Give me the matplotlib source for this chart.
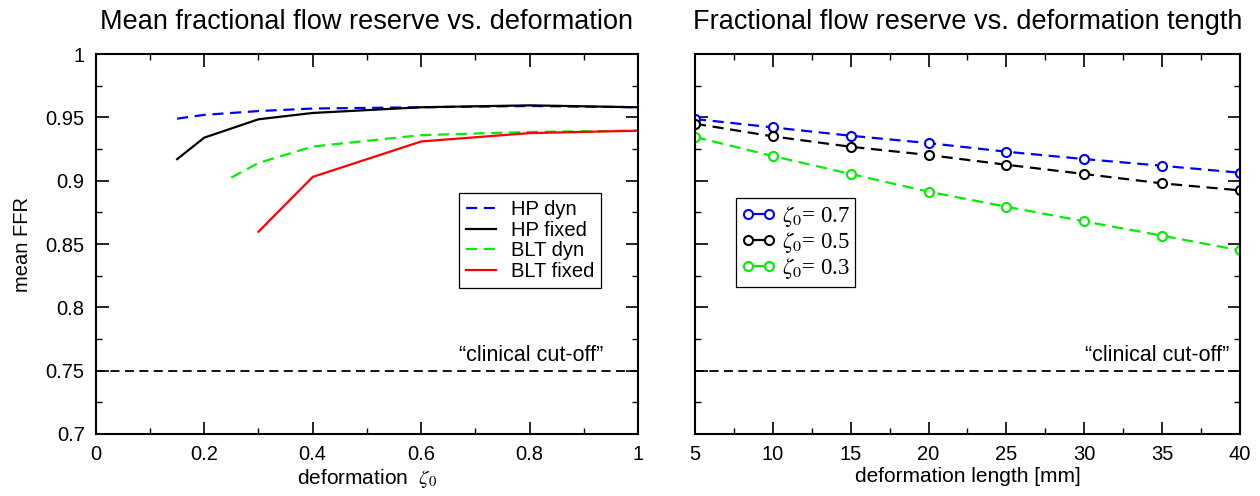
import matplotlib
matplotlib.use('Agg')
import matplotlib.pyplot as plt
from matplotlib.lines import Line2D
from matplotlib.ticker import MultipleLocator, FormatStrFormatter

plt.rcParams['font.family'] = ['Liberation Sans', 'DejaVu Sans']
plt.rcParams['mathtext.fontset'] = 'stix'

# left panel: mean FFR vs. deformation zeta_0
zeta_hp = [0.15, 0.2, 0.3, 0.4, 0.6, 0.8, 1.0]
hp_dyn = [0.949, 0.952, 0.955, 0.957, 0.958, 0.959, 0.958]
hp_fixed = [0.917, 0.934, 0.9485, 0.9535, 0.958, 0.9595, 0.958]
zeta_blt_dyn = [0.25, 0.3, 0.4, 0.6, 0.8, 1.0]
blt_dyn = [0.9025, 0.914, 0.927, 0.936, 0.9385, 0.9395]
zeta_blt_fixed = [0.3, 0.4, 0.6, 0.8, 1.0]
blt_fixed = [0.8597, 0.903, 0.931, 0.9376, 0.9395]

# right panel: FFR vs. deformation length
length_mm = [5, 10, 15, 20, 25, 30, 35, 40]
ffr_z07 = [0.9487, 0.9421, 0.9355, 0.9297, 0.9229, 0.9171, 0.9118, 0.9063]
ffr_z05 = [0.945, 0.935, 0.9268, 0.9203, 0.9126, 0.9053, 0.8979, 0.8924]
ffr_z03 = [0.9345, 0.9195, 0.9053, 0.8913, 0.8795, 0.8679, 0.8566, 0.845]
right_labels = [r'$\zeta_0$= 0.7', r'$\zeta_0$= 0.5', r'$\zeta_0$= 0.3']
right_colors = ['#0000ff', 'black', '#00ee00']

cutoff = 0.75

fig = plt.figure(figsize=(12.6, 4.96), dpi=100)
ax1 = fig.add_axes([0.076, 0.125, 0.4305, 0.766])
ax2 = fig.add_axes([0.5516, 0.125, 0.4325, 0.766])

lw = 1.6
ax1.plot(zeta_hp, hp_dyn, color='#0000ff', lw=lw, dashes=(5, 3), label='HP dyn')
ax1.plot(zeta_hp, hp_fixed, color='black', lw=lw, label='HP fixed')
ax1.plot(zeta_blt_dyn, blt_dyn, color='#00ee00', lw=lw, dashes=(5, 3), label='BLT dyn')
ax1.plot(zeta_blt_fixed, blt_fixed, color='#ff0000', lw=lw, label='BLT fixed')
ax1.axhline(cutoff, color='black', lw=1.3, dashes=(5, 3))
ax1.text(0.935, 0.762, '\u201cclinical cut-off\u201d', ha='right', va='center', fontsize=15.5)

for vals, c in zip([ffr_z07, ffr_z05, ffr_z03], right_colors):
    ax2.plot(length_mm, vals, color=c, lw=lw, dashes=(5, 3), marker='o',
             markersize=6.5, markerfacecolor='white', markeredgewidth=1.5)
ax2.axhline(cutoff, color='black', lw=1.3, dashes=(5, 3))
ax2.text(39.3, 0.762, '\u201cclinical cut-off\u201d', ha='right', va='center', fontsize=15.5)

for ax in (ax1, ax2):
    ax.set_ylim(0.7, 1.0)
    ax.yaxis.set_major_locator(MultipleLocator(0.05))
    ax.yaxis.set_minor_locator(MultipleLocator(0.025))
    ax.yaxis.set_major_formatter(FormatStrFormatter('%g'))
    ax.tick_params(which='both', direction='in', top=True, right=True, labelsize=14.5)
    ax.tick_params(which='major', length=9, width=1.2, pad=8)
    ax.tick_params(which='minor', length=4.5, width=1.0)
    for s in ax.spines.values():
        s.set_linewidth(1.5)

ax1.set_xlim(0, 1)
ax1.xaxis.set_major_locator(MultipleLocator(0.2))
ax1.xaxis.set_minor_locator(MultipleLocator(0.1))
ax1.xaxis.set_major_formatter(FormatStrFormatter('%g'))
ax1.set_xlabel(r'deformation  $\zeta_0$', fontsize=15, labelpad=2)
ax1.set_ylabel('mean FFR', fontsize=14.5, labelpad=10)
ax1.set_title('Mean fractional flow reserve vs. deformation', fontsize=19.5, pad=18)

ax2.set_xlim(5, 40)
ax2.xaxis.set_major_locator(MultipleLocator(5))
ax2.xaxis.set_minor_locator(MultipleLocator(2.5))
ax2.tick_params(axis='y', labelleft=False)
ax2.set_xlabel('deformation length [mm]', fontsize=15, labelpad=2)
ax2.set_title('Fractional flow reserve vs. deformation tength', fontsize=19.5, pad=18)

leg1 = ax1.legend(loc='upper left', bbox_to_anchor=(0.67, 0.634), borderaxespad=0,
                  fancybox=False, framealpha=1, edgecolor='black', fontsize=14.5,
                  handlelength=1.5, labelspacing=0.08, borderpad=0.35, handletextpad=0.7)
leg1.get_frame().set_linewidth(0.9)

handles = [Line2D([], [], color=c, lw=lw, marker='o', markersize=6.5,
                  markerfacecolor='white', markeredgewidth=1.5) for c in right_colors]
leg2 = ax2.legend(handles, right_labels, loc='upper left', bbox_to_anchor=(0.075, 0.621),
                  borderaxespad=0, fancybox=False, framealpha=1, edgecolor='black',
                  numpoints=2, handlelength=1.5, labelspacing=0.05, borderpad=0.25,
                  handletextpad=0.25, prop={'family': 'Liberation Serif', 'size': 16.5})
leg2.get_frame().set_linewidth(0.9)

fig.savefig('out.png', dpi=100)
